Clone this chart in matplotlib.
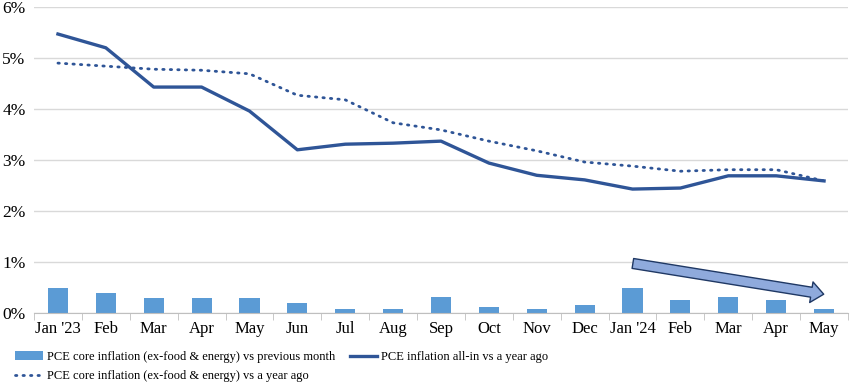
import matplotlib.pyplot as plt
import numpy as np

plt.rcParams['font.family'] = ['Liberation Serif', 'DejaVu Serif']

months = ["Jan '23", 'Feb', 'Mar', 'Apr', 'May', 'Jun', 'Jul', 'Aug', 'Sep', 'Oct',
          'Nov', 'Dec', "Jan '24", 'Feb', 'Mar', 'Apr', 'May']
core_mom = [0.49, 0.40, 0.30, 0.30, 0.30, 0.20, 0.08, 0.08, 0.32, 0.12,
            0.08, 0.15, 0.50, 0.26, 0.32, 0.26, 0.08]
allin_yoy = [5.47, 5.20, 4.43, 4.43, 3.96, 3.20, 3.31, 3.33, 3.37, 2.94,
             2.70, 2.61, 2.43, 2.45, 2.69, 2.69, 2.59]
core_yoy = [4.90, 4.84, 4.78, 4.76, 4.69, 4.27, 4.18, 3.73, 3.59, 3.37,
            3.18, 2.96, 2.88, 2.78, 2.81, 2.81, 2.59]

dark_blue = '#2F5597'
bar_blue = '#5B9BD5'

fig = plt.figure(figsize=(8.56, 3.86), dpi=100)
ax = fig.add_axes([34 / 856, 1 - 313 / 386, 814 / 856, 306 / 386])

x = np.arange(len(months))
bars = ax.bar(x, core_mom, width=0.42, color=bar_blue, zorder=2)
dotted, = ax.plot(x, core_yoy, color=dark_blue, lw=2.0, linestyle=(0, (0.5, 2.2)),
                  dash_capstyle='round', zorder=3)
solid, = ax.plot(x, allin_yoy, color=dark_blue, lw=2.4, zorder=4)

ax.set_xlim(-0.5, len(months) - 0.5)
ax.set_ylim(0, 6)
ax.set_yticks(range(7))
ax.set_yticklabels([f'{v}%' for v in range(7)])
ax.set_xticks(x)
ax.set_xticklabels(months)
ax.set_xticks(np.arange(-0.5, len(months)), minor=True)
ax.tick_params(axis='x', which='major', length=0, labelsize=12, pad=6)
ax.tick_params(axis='x', which='minor', length=5, color='#BFBFBF', direction='out')
ax.tick_params(axis='y', length=0, labelsize=12.5, pad=6)
ax.grid(axis='y', color='#D9D9D9', lw=1, zorder=0)
for s in ['top', 'right', 'left']:
    ax.spines[s].set_visible(False)
ax.spines['bottom'].set_color('#BFBFBF')

# downward trend arrow
ax.annotate('', xy=(16.05, 0.36), xytext=(11.95, 0.98),
            arrowprops=dict(arrowstyle='simple,head_width=1.25,head_length=0.75,tail_width=0.6',
                            mutation_scale=12, fc='#8FAADC', ec='#1F3864', lw=1),
            zorder=5)

fig.legend([bars, dotted, solid],
           ['PCE core inflation (ex-food & energy) vs previous month',
            'PCE core inflation (ex-food & energy) vs a year ago',
            'PCE inflation all-in vs a year ago'],
           loc='upper left', bbox_to_anchor=(0.012, 0.103),
           ncol=2, frameon=False, fontsize=9, handlelength=2.2,
           handletextpad=0.3, columnspacing=1.2, labelspacing=0.55,
           borderaxespad=0)

fig.savefig('out.png', dpi=100)
